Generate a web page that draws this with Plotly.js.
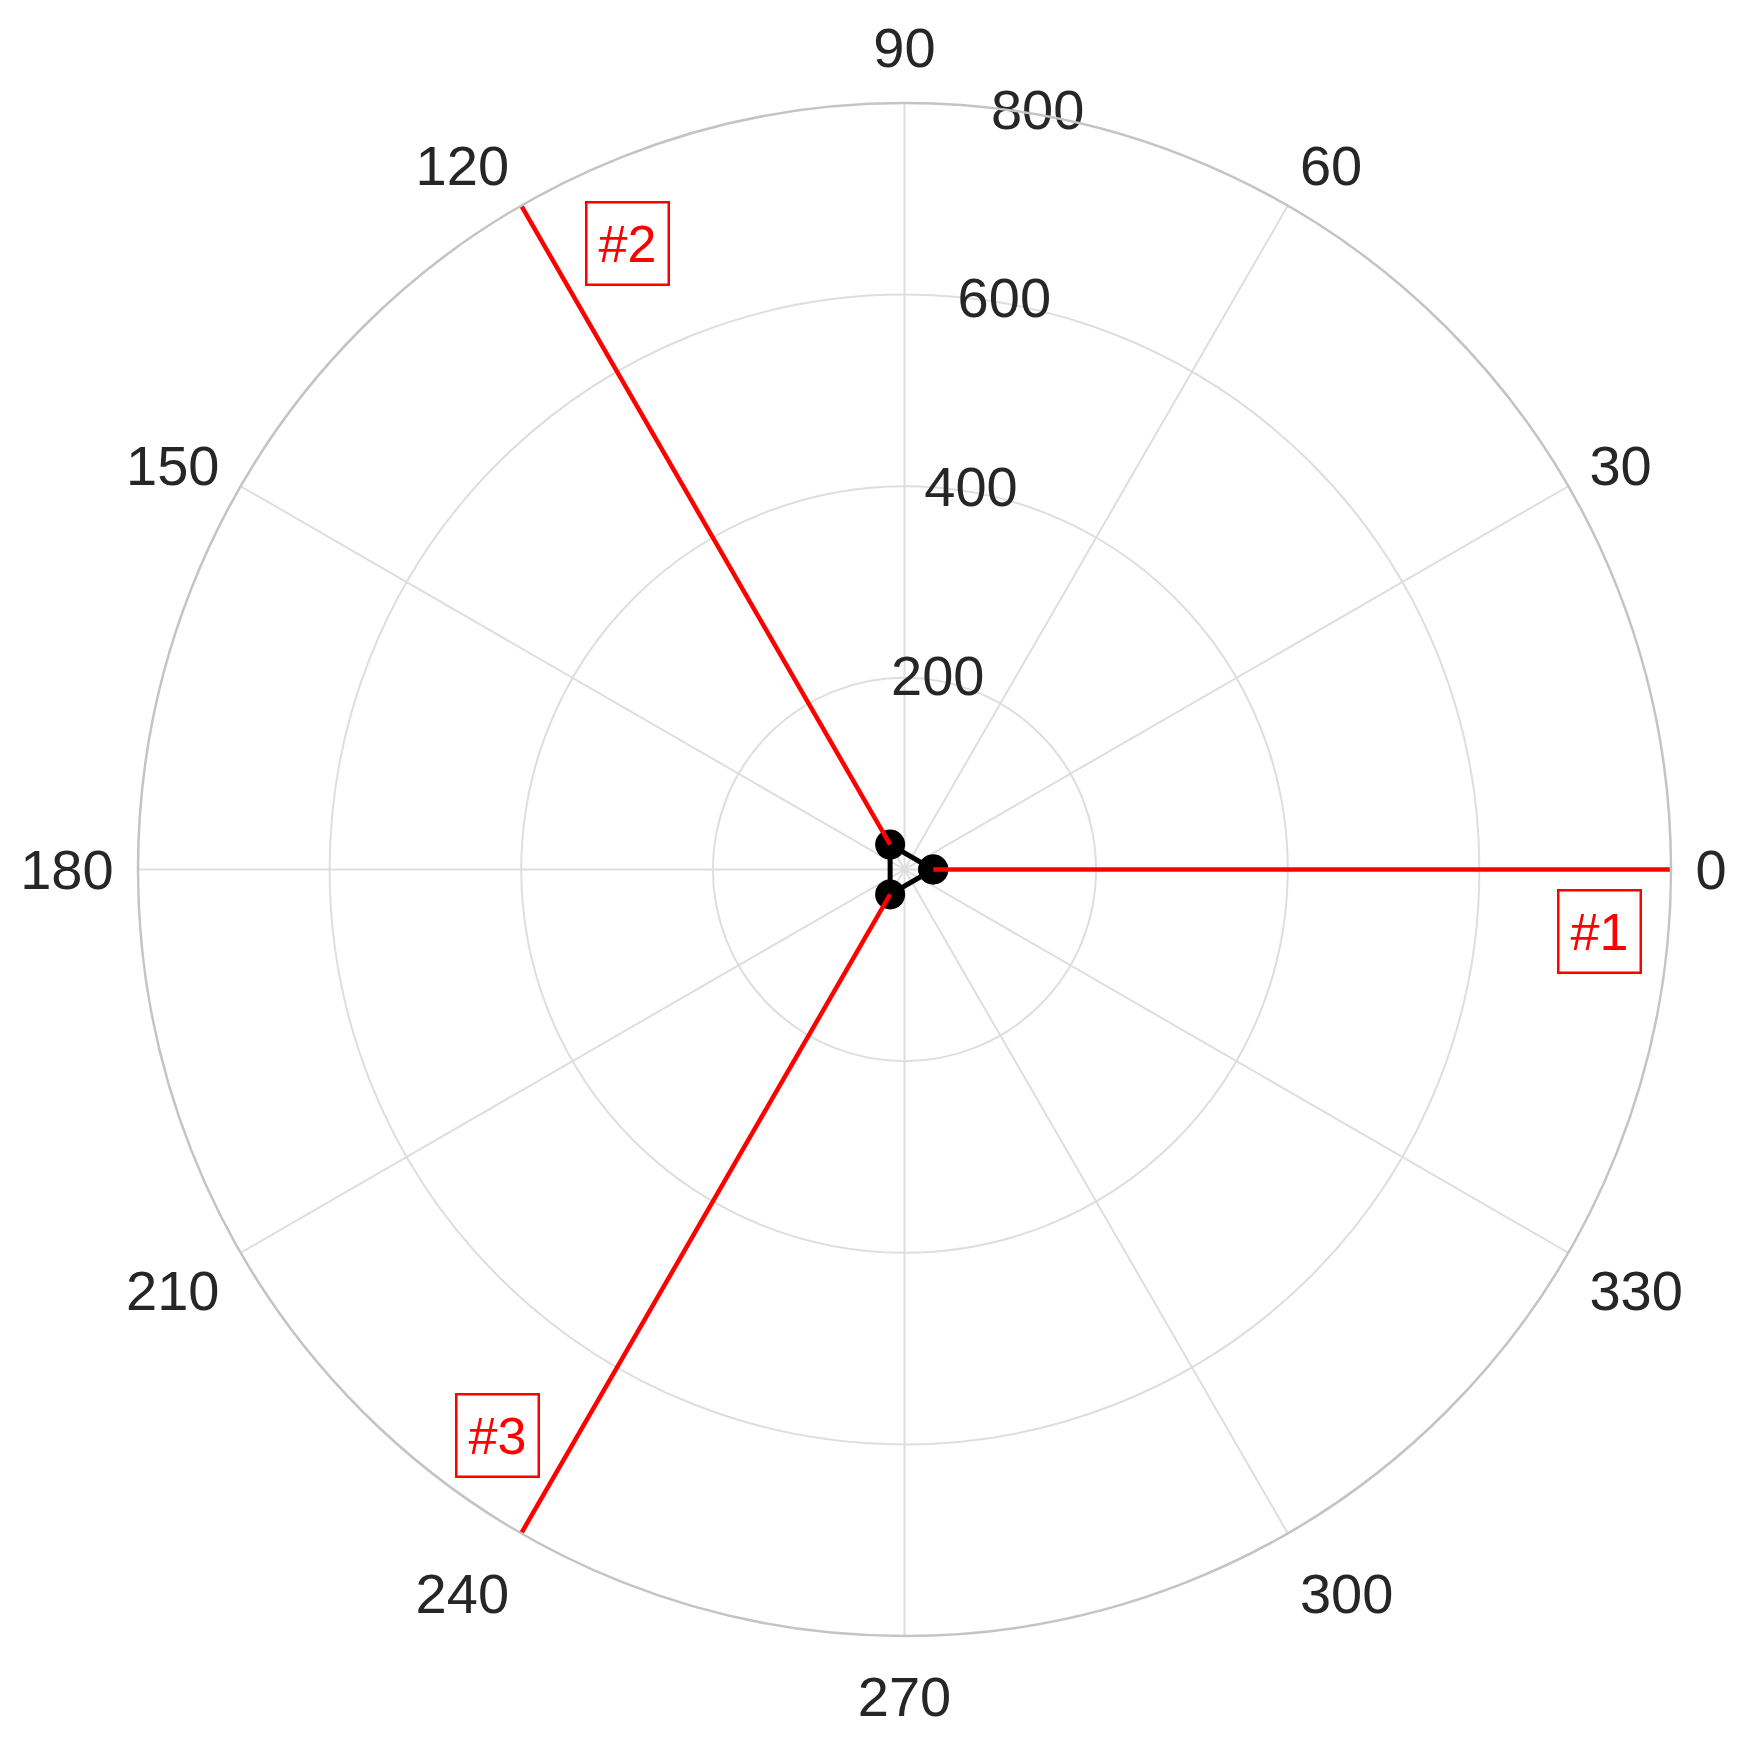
<!DOCTYPE html>
<html>
<head>
<meta charset="utf-8">
<script src="https://cdn.plot.ly/plotly-3.0.1.min.js"></script>
<style>html,body{margin:0;padding:0;background:#fff;}</style>
</head>
<body>
<div id="chart" style="width:1746px;height:1742px;"></div>
<script>
// Data
const pointLabels = ['#1', '#2', '#3'];
const pointTheta = [0, 120, 240];
const pointR = [30, 30, 30];
const rayEndR = 800;
const angularTicks = [0, 30, 60, 90, 120, 150, 180, 210, 240, 270, 300, 330];
const radialTicks = [200, 400, 600, 800];

const FONT = 'Arial, "Liberation Sans", sans-serif';
const TEXT_COLOR = '#262626';
const radialLabelAngle = 80;

const traces = [];
// closed triangle joining the points
traces.push({
  type: 'scatterpolar',
  theta: pointTheta.concat([pointTheta[0]]),
  r: pointR.concat([pointR[0]]),
  mode: 'lines+markers',
  line: {color: '#000000', width: 5},
  marker: {color: '#000000', size: 30},
  showlegend: false,
  hoverinfo: 'skip'
});
// red rays
pointTheta.forEach(function (t, i) {
  traces.push({
    type: 'scatterpolar',
    theta: [t, t],
    r: [pointR[i], rayEndR],
    mode: 'lines',
    line: {color: '#ff0000', width: 4.5},
    showlegend: false,
    hoverinfo: 'skip'
  });
});
// radial tick labels, horizontal, centred along the 80 degree line
traces.push({
  type: 'scatterpolar',
  theta: radialTicks.map(function () { return radialLabelAngle; }),
  r: radialTicks,
  text: radialTicks.map(String),
  mode: 'text',
  textposition: 'middle center',
  textfont: {family: FONT, size: 56, color: TEXT_COLOR},
  cliponaxis: false,
  showlegend: false,
  hoverinfo: 'skip'
});

const annPos = [[0.9534, 0.4596], [0.3196, 0.9083], [0.2348, 0.1305]];
const annotations = pointLabels.map(function (lab, i) {
  return {
    text: lab, xref: 'paper', yref: 'paper',
    x: annPos[i][0], y: annPos[i][1], xanchor: 'center', yanchor: 'middle',
    showarrow: false,
    font: {color: '#ff0000', size: 52, family: FONT},
    bordercolor: '#ff0000', borderwidth: 2.5, borderpad: 11, bgcolor: 'rgba(0,0,0,0)'
  };
});

const layout = {
  width: 1746, height: 1742,
  margin: {l: 138, r: 75, t: 103, b: 106},
  paper_bgcolor: '#ffffff',
  font: {family: FONT, color: TEXT_COLOR, size: 56},
  showlegend: false,
  polar: {
    domain: {x: [0, 1], y: [0, 1]},
    bgcolor: '#ffffff',
    radialaxis: {
      range: [0, rayEndR], tickvals: radialTicks,
      showticklabels: false, showline: false, ticks: '',
      gridcolor: '#dedede', gridwidth: 2
    },
    angularaxis: {
      direction: 'counterclockwise', rotation: 0,
      tickvals: angularTicks, ticktext: angularTicks.map(String),
      ticks: 'outside', ticklen: 12, tickcolor: 'rgba(0,0,0,0)',
      showline: true, linecolor: '#c4c4c4', linewidth: 2.5,
      gridcolor: '#dedede', gridwidth: 2,
      tickfont: {family: FONT, size: 56, color: TEXT_COLOR}
    }
  },
  annotations: annotations
};

Plotly.newPlot('chart', traces, layout, {displayModeBar: false, staticPlot: true});
</script>
</body>
</html>
